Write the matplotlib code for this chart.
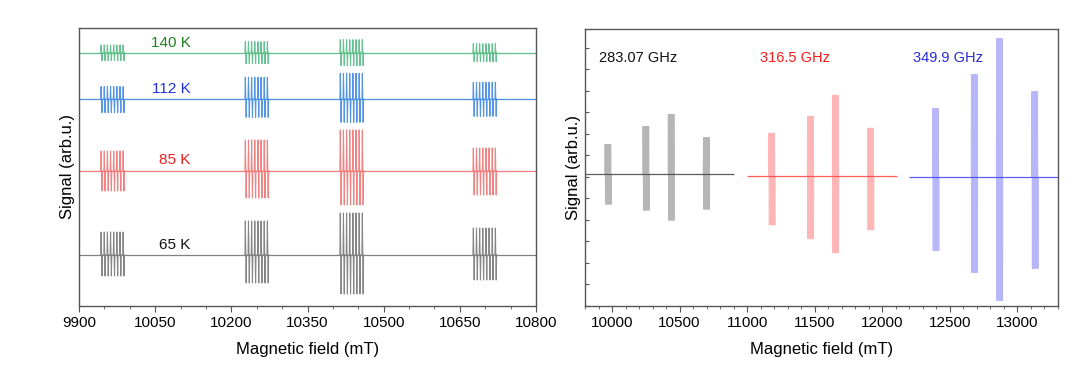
import matplotlib
matplotlib.use("Agg")
import matplotlib.pyplot as plt
from matplotlib.ticker import MultipleLocator
import numpy as np

plt.rcParams["font.family"] = ["Liberation Sans", "DejaVu Sans"]

# hyperfine octet: offsets of the 8 lines from the group centre (mT)
hf_offsets = [-21.7, -15.5, -9.3, -3.1, 3.1, 9.3, 15.5, 21.7]

# left panel: temperature series (baseline in arb.u., group centres in mT)
temp_labels = ["140 K", "112 K", "85 K", "65 K"]
temp_baselines = [253.3, 206.7, 135.0, 51.0]
temp_centres = [9966, 10250, 10437, 10699]
temp_up = [[7.7, 11, 13, 9], [12.7, 22, 26, 17], [20, 31, 41, 23], [23, 34, 42, 27]]
temp_down = [[8, 11, 13, 9], [13.3, 18, 23, 17], [20, 27, 34, 24], [21, 28, 39, 25]]
temp_line_colors = ["#5fbf8c", "#4a8fe6", "#f27c7c", "#808080"]
temp_text_colors = ["#1f7f1f", "#2030e0", "#ee1c1c", "#111111"]
temp_label_y = [263, 217, 146, 61]

# right panel: frequency series
freq_labels = ["283.07 GHz", "316.5 GHz", "349.9 GHz"]
freq_baselines = [131.7, 130.0, 128.5]
freq_ranges = [(9800, 10904), (11002, 12107), (12201, 13300)]
freq_centres = [[9971, 10252, 10439, 10699],
                [11183, 11469, 11654, 11914],
                [12396, 12682, 12868, 13130]]
freq_up = [[30, 48, 60, 37], [43, 60, 81, 48], [69, 103, 139, 86]]
freq_down = [[30, 36, 46, 35], [49, 63, 77, 54], [73, 95, 123, 91]]
freq_line_colors = ["#4a4a4a", "#ff4a4a", "#4a4aee"]
freq_text_colors = ["#111111", "#ff1a1a", "#2a2ad8"]
freq_label_x = [9905, 11096, 12226]


def draw_groups(ax, base, centres, up, down, color, w, lw, alpha):
    xs, ys = [], []
    for c, a, b in zip(centres, up, down):
        for off in hf_offsets:
            x = c + off
            xs += [x - w, x - w / 2, x + w / 2, x + w, np.nan]
            ys += [base, base + a, base - b, base, np.nan]
    ax.plot(xs, ys, color=color, lw=lw, alpha=alpha)


fig = plt.figure(figsize=(10.9, 3.76), dpi=100)
ax1 = fig.add_axes([0.0725, 0.1862, 0.4193, 0.7394])
ax2 = fig.add_axes([0.5367, 0.1862, 0.4339, 0.7367])

for i in range(4):
    ax1.hlines(temp_baselines[i], 9900, 10800, color=temp_line_colors[i], lw=0.9)
    draw_groups(ax1, temp_baselines[i], temp_centres, temp_up[i], temp_down[i],
                temp_line_colors[i], 1.6, 0.8, 0.95)
    ax1.text(10120, temp_label_y[i], temp_labels[i], color=temp_text_colors[i],
             fontsize=11, ha="right", va="center")

ax1.set_xlim(9900, 10800)
ax1.set_ylim(0, 278)
ax1.xaxis.set_major_locator(MultipleLocator(150))
ax1.xaxis.set_minor_locator(MultipleLocator(50))
ax1.set_yticks([])

for i in range(3):
    ax2.hlines(freq_baselines[i], freq_ranges[i][0], freq_ranges[i][1],
               color=freq_line_colors[i], lw=0.9, alpha=0.9)
    draw_groups(ax2, freq_baselines[i], freq_centres[i], freq_up[i], freq_down[i],
                freq_line_colors[i], 3.0, 0.5, 0.4)
    ax2.text(freq_label_x[i], 248, freq_labels[i], color=freq_text_colors[i],
             fontsize=10.5, ha="left", va="center")

ax2.set_xlim(9800, 13300)
ax2.set_ylim(0, 277)
ax2.xaxis.set_major_locator(MultipleLocator(500))
ax2.xaxis.set_minor_locator(MultipleLocator(100))
ax2.yaxis.set_major_locator(MultipleLocator(21.5))
ax2.tick_params(axis="y", direction="in", length=3, labelleft=False, color="#555555")

for ax in (ax1, ax2):
    ax.set_xlabel("Magnetic field (mT)", fontsize=12, labelpad=8)
    ax.set_ylabel("Signal (arb.u.)", fontsize=12, labelpad=3)
    ax.tick_params(axis="x", which="major", direction="out", length=4,
                   labelsize=11, color="#555555")
    ax.tick_params(axis="x", which="minor", direction="out", length=2.5,
                   color="#555555")
    for s in ax.spines.values():
        s.set_color("#555555")
        s.set_linewidth(1.0)

fig.savefig("out.png", dpi=100)
